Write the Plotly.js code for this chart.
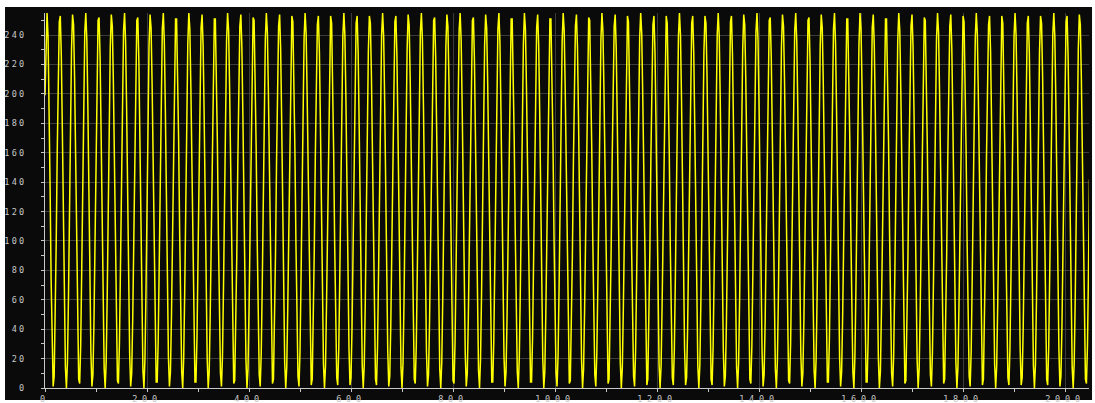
<!DOCTYPE html>
<html>
<head>
<meta charset="utf-8">
<script src="https://cdn.plot.ly/plotly-3.0.1.min.js"></script>
<style>
  html, body { margin: 0; padding: 0; background: #ffffff; }
  #chart { width: 1095px; height: 403px; }
  #chart .xtick text { letter-spacing: 4.8px; }
  #chart .ytick text { letter-spacing: 2.2px; }
</style>
</head>
<body>
<div id="chart"></div>
<script>
// Sample spacing of the recorded series (one value every 2 sample indices)
const sampleStart = 0;
const sampleStep = 2;

const adcSamples = [
199,240,255,239,195,136,74,26,1,8,43,99,161,216,249,253,226,176,114,55,14,0,17,61,120,182,230,254,247,211,155,92,38,6,3,29,80,142,
201,242,255,237,193,133,72,24,1,9,45,101,164,218,250,252,225,174,112,53,13,0,18,63,123,184,232,254,246,209,153,90,37,5,3,31,82,145,
203,243,255,236,191,131,70,23,1,10,47,104,166,219,250,252,223,171,109,51,12,0,20,65,125,186,233,254,245,207,150,88,35,4,4,33,85,147,
205,244,255,235,189,128,68,21,1,11,49,106,168,221,251,251,221,169,107,49,11,0,21,67,128,188,234,255,244,205,148,85,33,4,4,34,87,150,
207,245,254,233,187,126,66,20,0,11,51,108,171,223,251,251,220,167,104,47,10,1,22,69,130,191,236,255,243,203,145,83,32,3,5,36,89,152,
209,246,254,232,185,124,63,19,0,13,53,111,173,224,252,250,218,164,102,45,9,1,24,71,133,193,237,255,242,201,143,81,30,3,6,38,92,154,
210,246,254,231,183,121,61,17,0,14,55,113,175,226,253,249,216,162,99,44,8,1,25,74,135,195,238,255,241,199,141,79,28,2,6,40,94,157,
212,247,253,229,180,119,59,16,0,15,57,116,177,227,253,248,215,160,97,42,7,2,27,76,137,197,239,255,240,197,138,76,27,2,7,41,96,159,
214,248,253,228,178,116,57,15,0,16,59,118,180,229,253,248,213,157,95,40,6,2,28,78,140,
199,240,255,239,195,136,74,26,1,8,43,99,161,216,249,253,226,176,114,55,14,0,17,61,120,182,230,254,247,211,155,92,38,6,3,29,80,142,
201,242,255,237,193,133,72,24,1,9,45,101,164,218,250,252,225,174,112,53,13,0,18,63,123,184,232,254,246,209,153,90,37,5,3,31,82,145,
203,243,255,236,191,131,70,23,1,10,47,104,166,219,250,252,223,171,109,51,12,0,20,65,125,186,233,254,245,207,150,88,35,4,4,33,85,147,
205,244,255,235,189,128,68,21,1,11,49,106,168,221,251,251,221,169,107,49,11,0,21,67,128,188,234,255,244,205,148,85,33,4,4,34,87,150,
207,245,254,233,187,126,66,20,0,11,51,108,171,223,251,251,220,167,104,47,10,1,22,69,130,191,236,255,243,203,145,83,32,3,5,36,89,152,
209,246,254,232,185,124,63,19,0,13,53,111,173,224,252,250,218,164,102,45,9,1,24,71,133,193,237,255,242,201,143,81,30,3,6,38,92,154,
210,246,254,231,183,121,61,17,0,14,55,113,175,226,253,249,216,162,99,44,8,1,25,74,135,195,238,255,241,199,141,79,28,2,6,40,94,157,
212,247,253,229,180,119,59,16,0,15,57,116,177,227,253,248,215,160,97,42,7,2,27,76,137,197,239,255,240,197,138,76,27,2,7,41,96,159,
214,248,253,228,178,116,57,15,0,16,59,118,180,229,253,248,213,157,95,40,6,2,28,78,140,
199,240,255,239,195,136,74,26,1,8,43,99,161,216,249,253,226,176,114,55,14,0,17,61,120,182,230,254,247,211,155,92,38,6,3,29,80,142,
201,242,255,237,193,133,72,24,1,9,45,101,164,218,250,252,225,174,112,53,13,0,18,63,123,184,232,254,246,209,153,90,37,5,3,31,82,145,
203,243,255,236,191,131,70,23,1,10,47,104,166,219,250,252,223,171,109,51,12,0,20,65,125,186,233,254,245,207,150,88,35,4,4,33,85,147,
205,244,255,235,189,128,68,21,1,11,49,106,168,221,251,251,221,169,107,49,11,0,21,67,128,188,234,255,244,205,148,85,33,4,4,34,87,150,
207,245,254,233,187,126,66,20,0,11,51,108,171,223,251,251,220,167,104,47,10,1,22,69,130,191,236,255,243,203,145,83,32,3,5,36,89,152,
209,246,254,232,185,124,63,19,0,13,53,111,173,224,252,250,218,164,102,45,9,1,24,71,133,193,237,255,242,201,143,81,30,3,6,38,92,154,
210,246,254,231,183,121,61,17,0,14,55,113,175,226,253,249,216,162,99,44,8,1,25,74,135,195,238,255,241,199,141,79,28,2,6,40,94,157,
212,247,253,229,180,119,59,16,0,15,57,116,177,227,253,248,215,160,97,42,7,2,27,76,137,197,239,255,240,197,138,76,27,2,7,41,96,159,
214,248,253,228,178,116,57,15,0,16,59,118,180,229,253,248,213,157,95,40,6,2,28,78,140,
199,240,255,239,195,136,74,26,1,8,43,99,161,216,249,253,226,176,114,55,14,0,17,61,120,182,230,254,247,211,155,92,38,6,3,29,80,142
];

// Axis ticks
const xTickValues = [0, 200, 400, 600, 800, 1000, 1200, 1400, 1600, 1800, 2000];
const xTickLabels = ['0', '200', '400', '600', '800', '1000', '1200', '1400', '1600', '1800', '2000'];
const yTickValues = [0, 20, 40, 60, 80, 100, 120, 140, 160, 180, 200, 220, 240];
const yTickLabels = ['0', '20', '40', '60', '80', '100', '120', '140', '160', '180', '200', '220', '240'];

const xTickFont = { family: 'DejaVu Sans Mono, monospace', size: 8.5, color: '#c8c8c8' };
const yTickFont = { family: 'DejaVu Sans Mono, monospace', size: 8.5, color: '#c8c8c8' };

const trace = {
  type: 'scatter',
  mode: 'lines',
  x0: sampleStart,
  dx: sampleStep,
  y: adcSamples,
  line: { color: '#ffff00', width: 1.5, shape: 'linear' },
  hoverinfo: 'skip'
};

const layout = {
  width: 1095,
  height: 403,
  margin: { l: 45, r: 6, t: 13, b: 15, pad: 0 },
  paper_bgcolor: '#ffffff',
  plot_bgcolor: '#0a0a0a',
  showlegend: false,
  xaxis: {
    range: [0, 2047],
    tickmode: 'array',
    tickvals: xTickValues,
    ticktext: xTickLabels,
    showgrid: true,
    gridcolor: '#3c3c3c',
    gridwidth: 1,
    zeroline: false,
    showline: true,
    linecolor: '#c8c8c8',
    linewidth: 1,
    ticks: 'outside',
    ticklen: 3,
    tickcolor: '#c8c8c8',
    ticklabelstandoff: 0,
    minor: { tickmode: 'linear', tick0: 0, dtick: 100, ticks: 'outside', ticklen: 3, tickcolor: '#c8c8c8', showgrid: false },
    tickfont: xTickFont,
    fixedrange: true
  },
  yaxis: {
    range: [0, 255],
    tickmode: 'array',
    tickvals: yTickValues,
    ticktext: yTickLabels,
    showgrid: true,
    gridcolor: '#3c3c3c',
    gridwidth: 1,
    zeroline: false,
    showline: true,
    linecolor: '#c8c8c8',
    linewidth: 1,
    ticks: 'outside',
    ticklen: 3,
    tickcolor: '#c8c8c8',
    ticklabelstandoff: 13,
    minor: { tickmode: 'linear', tick0: 0, dtick: 10, ticks: 'outside', ticklen: 3, tickcolor: '#c8c8c8', showgrid: false },
    tickfont: yTickFont,
    fixedrange: true
  },
  shapes: [{
    type: 'rect', xref: 'paper', yref: 'paper',
    x0: -0.0383, x1: 1.0029, y0: -0.032, y1: 1.016,
    fillcolor: '#0a0a0a', line: { width: 0 }, layer: 'below'
  }]
};

Plotly.newPlot('chart', [trace], layout, { staticPlot: true, displayModeBar: false });
</script>
</body>
</html>
